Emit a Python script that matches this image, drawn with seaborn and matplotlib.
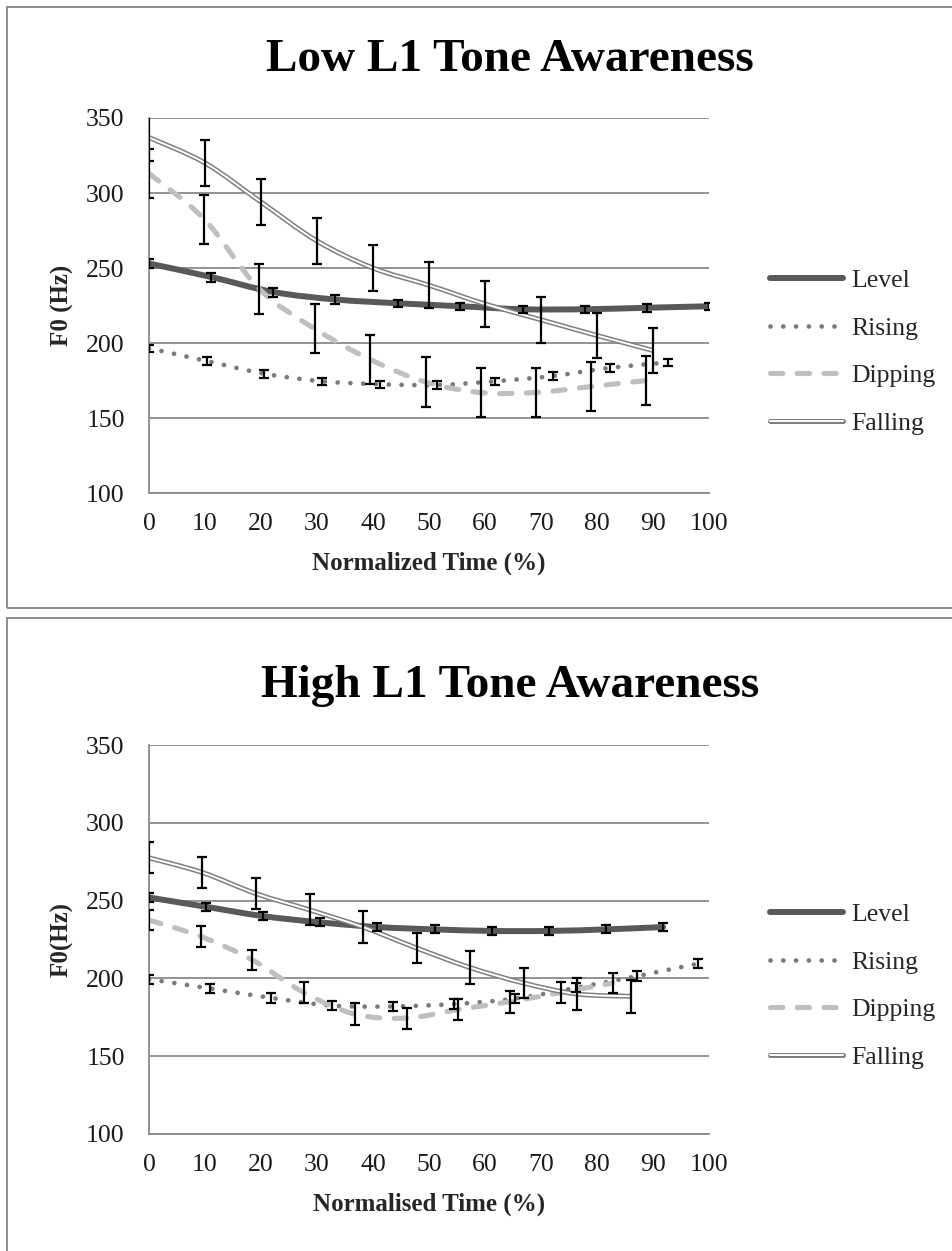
import numpy as np
import seaborn as sns
import matplotlib
matplotlib.use("Agg")
import matplotlib.pyplot as plt
from matplotlib.path import Path
from matplotlib.patches import PathPatch, Rectangle
from matplotlib.lines import Line2D

# ---- data (normalised time %, F0 Hz, +/- error) ----
TONES = ["Level", "Rising", "Dipping", "Falling"]

LOW_LEVEL_X = [0, 11.1, 22.2, 33.3, 44.4, 55.6, 66.7, 77.8, 88.9, 100]
LOW_LEVEL_F0 = [253, 244, 234, 229, 226.5, 224.5, 222.5, 222.5, 223.5, 224.5]
LOW_LEVEL_ERR = [3, 3, 3, 3, 2.5, 2.5, 2.5, 2.5, 2.5, 2.5]

LOW_RISING_X = [0, 10.3, 20.6, 30.9, 41.2, 51.5, 61.8, 72.1, 82.4, 92.7]
LOW_RISING_F0 = [196.5, 188, 179.5, 174.5, 172.5, 172, 174.5, 178, 183.5, 187]
LOW_RISING_ERR = [2.5, 2.5, 2.5, 2.5, 2.5, 2.5, 2.5, 2.5, 2.5, 2.5]

LOW_DIPPING_X = [0, 9.87, 19.7, 29.6, 39.5, 49.4, 59.2, 69.1, 79.0, 88.8]
LOW_DIPPING_F0 = [313, 282.5, 236, 209.5, 189, 174, 167, 167, 171, 175]
LOW_DIPPING_ERR = [16.5, 16.5, 16.5, 16.3, 16.1, 16.4, 16.5, 16.5, 16.1, 16.5]

LOW_FALLING_X = [0, 10, 20, 30, 40, 50, 60, 70, 80, 90]
LOW_FALLING_F0 = [337, 320, 294, 268, 250, 238.5, 226, 215.5, 205, 195]
LOW_FALLING_ERR = [15.5, 15.3, 15.3, 15.3, 15.5, 15.3, 15.4, 15.3, 15.3, 15.3]

HIGH_LEVEL_X = [0, 10.2, 20.4, 30.6, 40.8, 51.0, 61.2, 71.4, 81.6, 91.8]
HIGH_LEVEL_F0 = [252, 246, 240, 236, 233, 231.5, 230.5, 230.5, 231.5, 233]
HIGH_LEVEL_ERR = [3, 2.5, 2.5, 2.5, 2.5, 2.5, 2.5, 2.5, 2.5, 2.5]

HIGH_RISING_X = [0, 10.9, 21.8, 32.7, 43.6, 54.5, 65.4, 76.3, 87.2, 98.1]
HIGH_RISING_F0 = [199.5, 193.5, 187.5, 182.5, 182, 183.5, 187, 194, 201.5, 209.5]
HIGH_RISING_ERR = [3, 3, 3, 3, 3, 3, 3, 3, 3, 3]

HIGH_DIPPING_X = [0, 9.2, 18.4, 27.6, 36.8, 46.0, 55.2, 64.4, 73.6, 82.8]
HIGH_DIPPING_F0 = [237.5, 227, 212, 191, 177, 174.5, 180, 185, 191, 197]
HIGH_DIPPING_ERR = [6.5, 6.7, 6.5, 6.7, 6.9, 6.7, 7, 7, 7, 6.7]

HIGH_FALLING_X = [0, 9.55, 19.1, 28.7, 38.2, 47.8, 57.3, 66.9, 76.4, 86.0]
HIGH_FALLING_F0 = [277.5, 268, 254.5, 244, 233, 219.5, 207, 197, 190, 188.5]
HIGH_FALLING_ERR = [10, 10.2, 10.2, 10, 10.2, 9.8, 10.4, 9.5, 10.5, 10.5]

PANELS = [
    {"title": "Low L1 Tone Awareness", "xlabel": "Normalized Time (%)", "ylabel": "F0 (Hz)",
     "series": [(LOW_LEVEL_X, LOW_LEVEL_F0, LOW_LEVEL_ERR),
                (LOW_RISING_X, LOW_RISING_F0, LOW_RISING_ERR),
                (LOW_DIPPING_X, LOW_DIPPING_F0, LOW_DIPPING_ERR),
                (LOW_FALLING_X, LOW_FALLING_F0, LOW_FALLING_ERR)]},
    {"title": "High L1 Tone Awareness", "xlabel": "Normalised Time (%)", "ylabel": "F0(Hz)",
     "series": [(HIGH_LEVEL_X, HIGH_LEVEL_F0, HIGH_LEVEL_ERR),
                (HIGH_RISING_X, HIGH_RISING_F0, HIGH_RISING_ERR),
                (HIGH_DIPPING_X, HIGH_DIPPING_F0, HIGH_DIPPING_ERR),
                (HIGH_FALLING_X, HIGH_FALLING_F0, HIGH_FALLING_ERR)]},
]

GRID = "#8a8a8a"
LEVEL_C = "#595959"
RISING_C = "#7a7a7a"
DIPPING_C = "#bfbfbf"
FALLING_C = "#7f7f7f"
DOTS = (0, (0.01, 2.7))
DASHES = (0, (2.4, 2.8))

sns.set_theme(style="white")
plt.rcParams["font.family"] = ["Liberation Serif", "DejaVu Serif"]


def smooth_path(x, y):
    # Excel-style "smoothed line": cubic Bezier through every data point
    pts = np.column_stack([x, y]).astype(float)
    n = len(pts)
    verts, codes = [pts[0]], [Path.MOVETO]
    for i in range(n - 1):
        p0 = pts[i - 1] if i > 0 else pts[i]
        p1, p2 = pts[i], pts[i + 1]
        p3 = pts[i + 2] if i + 2 < n else pts[i + 1]
        verts += [p1 + (p2 - p0) / 6, p2 - (p3 - p1) / 6, p2]
        codes += [Path.CURVE4] * 3
    return Path(verts, codes)


def add_curve(ax, x, y, **kw):
    ax.add_patch(PathPatch(smooth_path(x, y), facecolor="none", **kw))


fig = plt.figure(figsize=(9.52, 12.51), dpi=100)

# axes rectangles (fig fraction) and panel boxes (pixels)
ax_rects = [[149 / 952, 1 - 493 / 1251, 560 / 952, 375 / 1251],
            [149 / 952, 1 - 1134 / 1251, 560 / 952, 389 / 1251]]
boxes = [(7, 7, 608), (7, 618, 1262)]
title_y = [60, 686]
legend_y = [352, 986]

for k, panel in enumerate(PANELS):
    x0, top, bot = boxes[k]
    fig.patches.append(Rectangle((x0 / 952, 1 - bot / 1251), 1.2, (bot - top) / 1251,
                                 transform=fig.transFigure, fill=False,
                                 edgecolor="#8c8c8c", linewidth=1.4))
    ax = fig.add_axes(ax_rects[k])
    ax.set_xlim(0, 100)
    ax.set_ylim(100, 350)
    ax.set_xticks(np.arange(0, 101, 10))
    ax.set_yticks(np.arange(100, 351, 50))
    ax.yaxis.grid(True, color=GRID, linewidth=1.3)
    ax.xaxis.grid(False)
    for side in ["top", "right"]:
        ax.spines[side].set_visible(False)
    for side in ["left", "bottom"]:
        ax.spines[side].set_color(GRID)
        ax.spines[side].set_linewidth(1.3)
    ax.tick_params(axis="both", direction="out", length=5.5, width=1.2, color=GRID,
                   labelsize=18.5, labelcolor="#1a1a1a")
    ax.tick_params(axis="y", pad=12)
    ax.tick_params(axis="x", pad=9)
    ax.set_xlabel(panel["xlabel"], fontsize=18, fontweight="bold", labelpad=12)
    ax.set_ylabel(panel["ylabel"], fontsize=18, fontweight="bold", labelpad=9)

    (lx, ly, le), (rx, ry, re), (dx, dy, de), (fx, fy, fe) = panel["series"]
    add_curve(ax, lx, ly, edgecolor=LEVEL_C, linewidth=4.3, capstyle="round", zorder=3)
    add_curve(ax, rx, ry, edgecolor=RISING_C, linewidth=3.4, linestyle=DOTS,
              capstyle="round", zorder=3)
    add_curve(ax, dx, dy, edgecolor=DIPPING_C, linewidth=3.7, linestyle=DASHES,
              capstyle="round", zorder=3)
    add_curve(ax, fx, fy, edgecolor=FALLING_C, linewidth=3.6, zorder=4)
    add_curve(ax, fx, fy, edgecolor="white", linewidth=1.4, zorder=4)

    for sx, sy, se in panel["series"]:
        ax.errorbar(sx, sy, yerr=se, fmt="none", ecolor="black", elinewidth=1.6,
                    capsize=3.4, capthick=1.6, zorder=6)

    fig.text(510 / 952, 1 - title_y[k] / 1251, panel["title"], ha="center", va="center",
             fontsize=34, fontweight="bold", color="black")

    handles = [
        Line2D([], [], color=LEVEL_C, linewidth=4.3, solid_capstyle="round"),
        Line2D([], [], color=RISING_C, linewidth=3.4, linestyle=DOTS, dash_capstyle="round"),
        Line2D([], [], color=DIPPING_C, linewidth=3.7, linestyle=DASHES, dash_capstyle="round"),
        (Line2D([], [], color=FALLING_C, linewidth=3.6, solid_capstyle="round"),
         Line2D([], [], color="white", linewidth=1.4, solid_capstyle="round")),
    ]
    fig.legend(handles, TONES, loc="center left",
               bbox_to_anchor=(770 / 952, 1 - legend_y[k] / 1251),
               frameon=False, fontsize=18.5, handlelength=2.85, handletextpad=0.3,
               labelspacing=0.95, borderpad=0, borderaxespad=0)

fig.savefig("out.png", dpi=100)
